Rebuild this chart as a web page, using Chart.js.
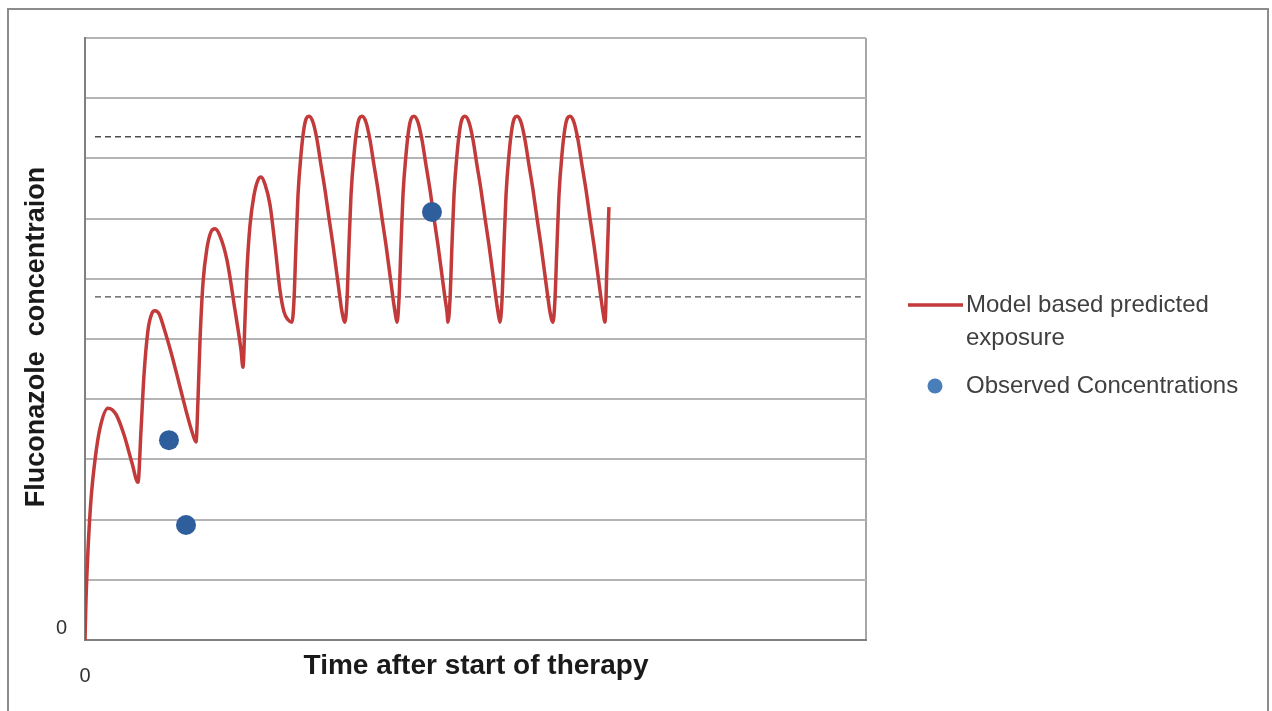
<!DOCTYPE html>
<html>
<head>
<meta charset="utf-8">
<script src="https://cdn.jsdelivr.net/npm/chart.js@4"></script>
<style>
    body { margin: 0; background: #fff; }
    canvas { display: block; }
</style>
</head>
<body>
<canvas id="popChart" width="1272" height="711"></canvas>
<script>
// time after start (h) and predicted concentration
let modelTime = [
    0, 0.19, 0.58, 1.15, 1.92, 2.88, 4.42, 5.95, 7.49, 9.03, 10.18,
    10.76, 11.33, 12.10, 12.87, 13.44, 14.21, 15.17, 16.52, 18.05, 19.59, 20.55, 21.32,
    21.70, 22.09, 22.66, 23.43, 24.20, 24.97, 25.93, 27.27, 28.81, 29.96, 30.34,
    30.73, 31.11, 31.69, 32.46, 33.22, 33.80, 34.57, 35.53, 36.49, 37.45, 38.22, 38.99,
    39.75, 40.14, 40.52, 40.91, 41.48, 42.06, 42.54, 43.02, 43.79, 44.56, 45.32, 46.09, 46.86, 47.63, 48.40, 48.97, 49.36,
    49.93, 50.32, 50.70, 51.09, 51.66, 52.24, 52.72, 53.20, 53.97, 54.73, 55.50, 56.27, 57.04, 57.81, 58.58, 59.15, 59.54,
    59.92, 60.30, 60.69, 61.07, 61.65, 62.22, 62.70, 63.18, 63.95, 64.72, 65.49, 66.26, 67.02, 67.79, 68.56, 69.14, 69.52,
    69.71, 70.10, 70.48, 70.87, 71.44, 72.02, 72.50, 72.98, 73.75, 74.52, 75.28, 76.05, 76.82, 77.59, 78.36, 78.93, 79.32,
    79.70, 80.09, 80.47, 80.86, 81.43, 82.01, 82.49, 82.97, 83.74, 84.50, 85.27, 86.04, 86.81, 87.57, 88.34, 88.92, 89.30,
    89.88, 90.26, 90.65, 91.03, 91.60, 92.18, 92.66, 93.14, 93.91, 94.68, 95.45, 96.22, 96.98, 97.75, 98.52, 99.10, 99.48,
    99.87, 100.25, 100.63
]
let modelConc = [
    0, 0.66, 1.50, 2.33, 2.99, 3.52, 3.85, 3.75, 3.41, 2.94, 2.62,
    3.49, 4.40, 5.15, 5.43, 5.47, 5.42, 5.18, 4.78, 4.27, 3.75, 3.46, 3.29,
    3.99, 4.98, 5.93, 6.51, 6.78, 6.83, 6.71, 6.31, 5.48, 4.82, 4.53,
    5.32, 6.15, 6.89, 7.39, 7.64, 7.69, 7.57, 7.23, 6.56, 5.81, 5.45, 5.32,
    5.28, 5.65, 6.56, 7.39, 8.06, 8.50, 8.67, 8.70, 8.60, 8.31, 7.89, 7.48, 7.01, 6.56, 6.06, 5.68, 5.45,
    5.28, 5.65, 6.56, 7.39, 8.06, 8.50, 8.67, 8.70, 8.60, 8.31, 7.89, 7.48, 7.01, 6.56, 6.06, 5.68, 5.45,
    5.28, 5.65, 6.56, 7.39, 8.06, 8.50, 8.67, 8.70, 8.60, 8.31, 7.89, 7.48, 7.01, 6.56, 6.06, 5.68, 5.45,
    5.28, 5.65, 6.56, 7.39, 8.06, 8.50, 8.67, 8.70, 8.60, 8.31, 7.89, 7.48, 7.01, 6.56, 6.06, 5.68, 5.45,
    5.28, 5.65, 6.56, 7.39, 8.06, 8.50, 8.67, 8.70, 8.60, 8.31, 7.89, 7.48, 7.01, 6.56, 6.06, 5.68, 5.45,
    5.28, 5.65, 6.56, 7.39, 8.06, 8.50, 8.67, 8.70, 8.60, 8.31, 7.89, 7.48, 7.01, 6.56, 6.06, 5.68, 5.45,
    5.28, 6.23, 7.19
]
let obsTime = [16.13, 19.40, 66.64]
let obsConc = [3.32, 1.91, 7.11]

let rangeX = [1.92, 149.0]
let upperLimit = 8.36
let lowerLimit = 5.70

let xTickLabels = ['0']
let yTickLabels = ['0']

let toPoints = (xs, ys) => xs.map((x, i) => ({x: x, y: ys[i]}))

let frameAndText = {
    id: 'frameAndText',
    beforeDraw: (chart) => {
        let ctx = chart.ctx
        ctx.save()
        ctx.fillStyle = '#fff'
        ctx.fillRect(0, 0, chart.width, chart.height)
        ctx.strokeStyle = '#8c8c8c'
        ctx.lineWidth = 2
        ctx.strokeRect(8, 9, 1260, 720)
        ctx.restore()
    },
    afterDraw: (chart) => {
        let ctx = chart.ctx
        let xs = chart.scales.x
        let ys = chart.scales.y
        ctx.save()
        ctx.fillStyle = '#333'
        ctx.font = '20px "Liberation Sans"'
        ctx.textAlign = 'right'
        ctx.textBaseline = 'middle'
        ctx.fillText(yTickLabels[0], xs.left - 18, ys.getPixelForValue(0) - 12)
        ctx.textAlign = 'center'
        ctx.fillText(xTickLabels[0], xs.getPixelForValue(0), ys.bottom + 36)

        ctx.fillStyle = '#1a1a1a'
        ctx.font = 'bold 28px "Liberation Sans"'
        ctx.fillText('Time after start of therapy', 476, ys.bottom + 26)

        ctx.save()
        ctx.translate(37, 337)
        ctx.rotate(-Math.PI / 2)
        ctx.font = 'bold 27px "Liberation Sans"'
        ctx.fillText('Fluconazole  concentraion', 0, 0)
        ctx.restore()

        // legend
        ctx.strokeStyle = '#c23a3a'
        ctx.lineWidth = 3.5
        ctx.beginPath()
        ctx.moveTo(908, 305)
        ctx.lineTo(963, 305)
        ctx.stroke()
        ctx.fillStyle = '#4a7ebb'
        ctx.beginPath()
        ctx.arc(935, 386, 7.5, 0, Math.PI * 2)
        ctx.fill()
        ctx.fillStyle = '#404040'
        ctx.font = '24px "Liberation Sans"'
        ctx.textAlign = 'left'
        ctx.fillText('Model based predicted', 966, 305)
        ctx.fillText('exposure', 966, 338)
        ctx.fillText('Observed Concentrations', 966, 386)
        ctx.restore()
    }
}

let config = {
    data: {
        datasets: [
            {
                type: 'scatter',
                label: 'Observed Concentrations',
                data: toPoints(obsTime, obsConc),
                backgroundColor: '#2e5e9c',
                borderWidth: 0,
                pointRadius: 10
            },
            {
                type: 'line',
                label: 'Model based predicted exposure',
                data: toPoints(modelTime, modelConc),
                borderColor: '#c23a3a',
                borderWidth: 3.5,
                pointRadius: 0,
                cubicInterpolationMode: 'monotone',
                fill: false
            },
            {
                type: 'line',
                label: 'upper',
                data: toPoints(rangeX, [upperLimit, upperLimit]),
                borderColor: '#4d4d4d',
                borderWidth: 1.4,
                borderDash: [6, 4],
                pointRadius: 0
            },
            {
                type: 'line',
                label: 'lower',
                data: toPoints(rangeX, [lowerLimit, lowerLimit]),
                borderColor: '#4d4d4d',
                borderWidth: 1.4,
                borderDash: [6, 4],
                pointRadius: 0
            }
        ]
    },
    options: {
        responsive: false,
        animation: false,
        layout: {
            padding: {left: 85, right: 406, top: 38, bottom: 71}
        },
        plugins: {
            legend: {display: false},
            tooltip: {enabled: false}
        },
        scales: {
            x: {
                type: 'linear',
                min: 0,
                max: 150,
                ticks: {display: false, stepSize: 150},
                grid: {
                    drawTicks: false,
                    lineWidth: 2,
                    color: (c) => c.tick && c.tick.value == 150 ? '#a6a6a6' : 'rgba(0,0,0,0)'
                },
                border: {display: true, color: '#808080', width: 2}
            },
            y: {
                type: 'linear',
                min: 0,
                max: 10,
                ticks: {display: false, stepSize: 1},
                grid: {drawTicks: false, lineWidth: 2, color: '#b4b4b4'},
                border: {display: true, color: '#808080', width: 2}
            }
        }
    },
    plugins: [frameAndText]
}

new Chart(document.getElementById('popChart').getContext('2d'), config)
</script>
</body>
</html>
